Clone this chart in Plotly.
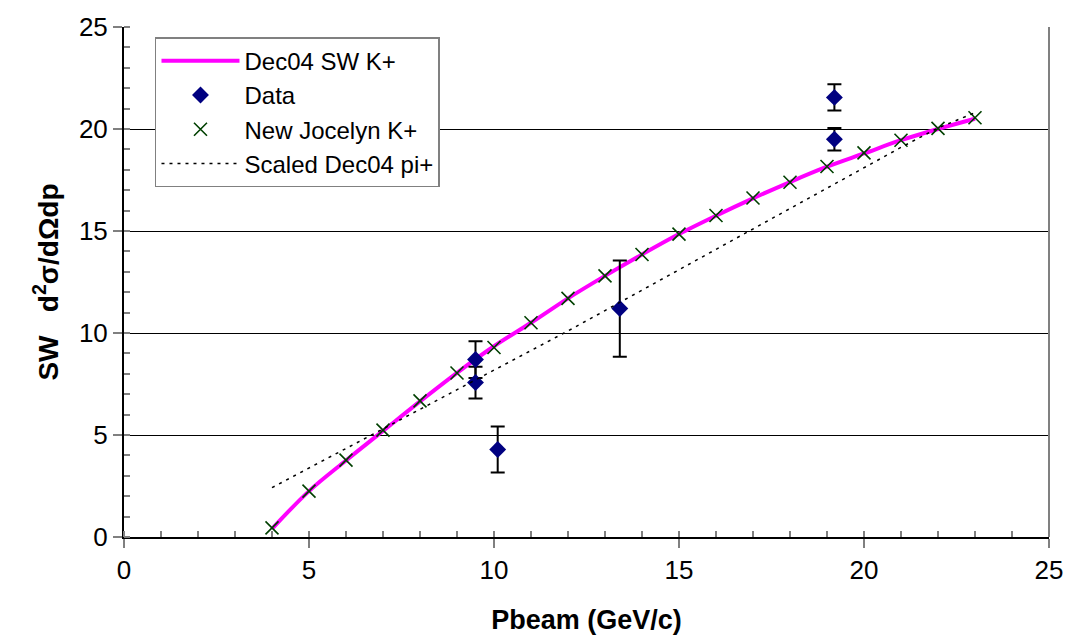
import plotly.graph_objects as go

# Dec04 SW K+ curve
curve_x = [4, 5, 6, 7, 8, 9, 10, 11, 12, 13, 14, 15, 16, 17, 18, 19, 20, 21, 22, 23]
curve_y = [0.4, 2.25, 3.75, 5.2, 6.65, 8.05, 9.35, 10.5, 11.7, 12.8, 13.85, 14.85, 15.75, 16.6, 17.4, 18.15, 18.8, 19.45, 20.0, 20.5]

# Data with error bars
data_x = [9.5, 9.5, 10.1, 13.4, 19.2, 19.2]
data_y = [8.7, 7.57, 4.29, 11.2, 21.55, 19.5]
data_err = [0.9, 0.78, 1.13, 2.36, 0.64, 0.55]

# New Jocelyn K+
joc_x = [4, 5, 6, 7, 8, 9, 10, 11, 12, 13, 14, 15, 16, 17, 18, 19, 20, 21, 22, 23]
joc_y = [0.45, 2.25, 3.77, 5.24, 6.67, 8.04, 9.29, 10.5, 11.7, 12.8, 13.85, 14.85, 15.76, 16.62, 17.39, 18.16, 18.83, 19.45, 20.03, 20.55]

# Scaled Dec04 pi+
pi_x = [4, 5, 6, 7, 8, 9, 10, 11, 12, 13, 14, 15, 16, 17, 18, 19, 20, 21, 22, 23]
pi_y = [2.42, 3.38, 4.33, 5.28, 6.25, 7.2, 8.15, 9.1, 10.1, 11.1, 12.1, 13.1, 14.1, 15.1, 16.1, 17.1, 18.1, 19.1, 20.05, 20.8]

FONT = "Liberation Sans, Arial, sans-serif"

fig = go.Figure()
fig.add_trace(go.Scatter(x=curve_x, y=curve_y, mode="lines", name="Dec04 SW K+",
                         line=dict(color="#FF00FF", width=4, shape="spline")))
fig.add_trace(go.Scatter(x=data_x, y=data_y, mode="markers", name="Data",
                         marker=dict(symbol="diamond", color="#000080", size=13),
                         error_y=dict(type="data", array=data_err, color="black",
                                      thickness=2, width=7)))
fig.add_trace(go.Scatter(x=joc_x, y=joc_y, mode="markers", name="New Jocelyn K+",
                         marker=dict(symbol="x-thin", size=13,
                                     line=dict(color="#004000", width=1.6), color="#004000")))
fig.add_trace(go.Scatter(x=pi_x, y=pi_y, mode="lines", name="Scaled Dec04 pi+",
                         line=dict(color="black", width=1.5, dash="3px,5px")))

fig.update_layout(
    width=1076, height=642,
    margin=dict(l=124, r=27, t=17, b=103),
    paper_bgcolor="white", plot_bgcolor="white",
    font=dict(family=FONT, size=26, color="black"),
    showlegend=True,
    legend=dict(x=0.0335, y=0.98, xanchor="left", yanchor="top",
                bgcolor="white", bordercolor="#808080", borderwidth=1.5,
                font=dict(family=FONT, size=24, color="black"),
                tracegroupgap=0, itemwidth=78),
    shapes=[dict(type="line", xref="paper", yref="paper", x0=1, x1=1, y0=0, y1=1,
                 line=dict(color="#808080", width=2))],
)

fig.update_xaxes(
    range=[0, 25], dtick=5, tick0=0,
    showline=True, linecolor="black", linewidth=1.5,
    ticks="outside", ticklen=9, tickcolor="#808080", tickwidth=1.5,
    minor=dict(dtick=1, ticks="inside", ticklen=6, tickcolor="#808080", tickwidth=1.5, showgrid=False),
    showgrid=False, zeroline=False,
    tickfont=dict(family=FONT, size=26),
    title=dict(text="<b>Pbeam (GeV/c)</b>", font=dict(family=FONT, size=27), standoff=26),
)
fig.update_yaxes(
    range=[0, 25], dtick=5, tick0=0,
    showline=True, linecolor="black", linewidth=2,
    ticks="outside", ticklen=9, tickcolor="#808080", tickwidth=1.5,
    minor=dict(dtick=1, ticks="inside", ticklen=6, tickcolor="#808080", tickwidth=1.5, showgrid=False),
    showgrid=True, gridcolor="black", gridwidth=1, zeroline=False,
    tickfont=dict(family=FONT, size=26),
    title=dict(text="<b>SW&nbsp;&nbsp; d<sup>2</sup>σ/dΩdp</b>", font=dict(family=FONT, size=28), standoff=12),
)

fig.write_html("out.html")
